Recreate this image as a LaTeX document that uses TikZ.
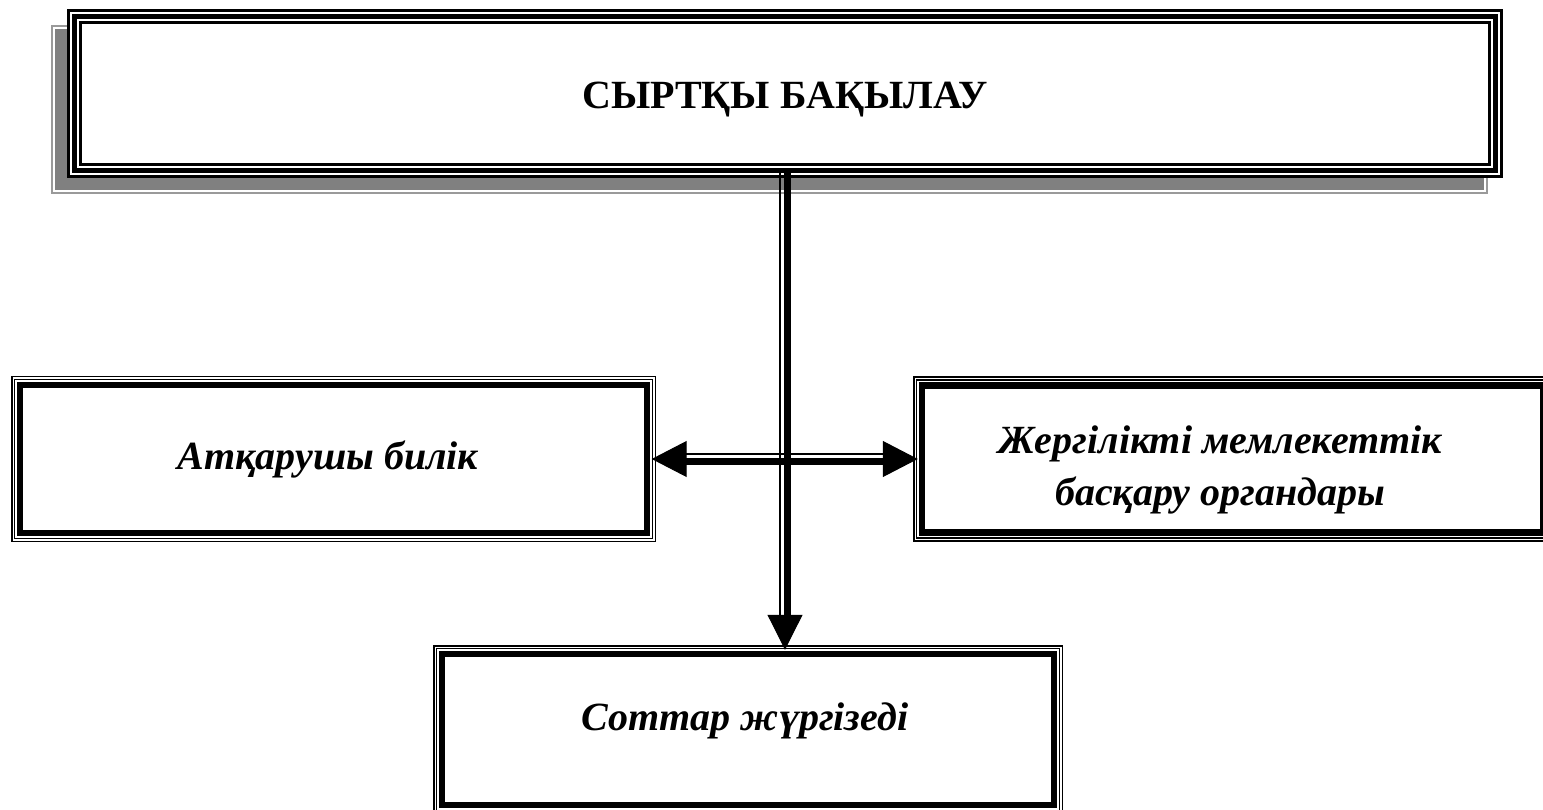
\documentclass[tikz,border=0pt]{standalone}
\usepackage{fontspec}
\setmainfont{Liberation Serif}
\usetikzlibrary{arrows.meta}
\definecolor{shadowfill}{HTML}{808080}
\definecolor{shadowline}{HTML}{9A9A9A}
\newcommand{\framemain}[1]{%
  \draw[line width=3pt] ([shift={(1.5,1.5)}]#1.north west) rectangle ([shift={(-1.5,-1.5)}]#1.south east);
  \draw[line width=5pt] ([shift={(7.5,7.5)}]#1.north west) rectangle ([shift={(-7.5,-7.5)}]#1.south east);
  \draw[line width=2.5pt] ([shift={(13.5,13.5)}]#1.north west) rectangle ([shift={(-13.5,-13.5)}]#1.south east);}
\newcommand{\framesub}[1]{%
  \draw[line width=1.7pt] ([shift={(0.85,0.85)}]#1.north west) rectangle ([shift={(-0.85,-0.85)}]#1.south east);
  \draw[line width=1.3pt] ([shift={(3.7,3.7)}]#1.north west) rectangle ([shift={(-3.7,-3.7)}]#1.south east);
  \draw[line width=6.5pt] ([shift={(9,9)}]#1.north west) rectangle ([shift={(-9,-9)}]#1.south east);}
\begin{document}
\begin{tikzpicture}[x=1pt,y=-1pt,
  boxshape/.style={rectangle, inner sep=0pt, fill=white, draw=none},
  titletext/.style={font=\fontsize{40}{48}\selectfont\bfseries, inner sep=0pt},
  lbl/.style={font=\fontsize{40}{52}\selectfont\bfseries\itshape, inner sep=0pt, align=center},
  bigtip/.style={line width=1pt, #1},
]
\useasboundingbox (0,0) rectangle (1543,810);
% shadow of the top box
\fill[shadowfill] (55,29) rectangle (1484,190);
\draw[shadowline, line width=2pt] (52,26) rectangle (1487,193);
% boxes
\node[boxshape, minimum width=1436pt, minimum height=169pt] (tbox) at (785,93.5) {};
\framemain{tbox}
\node[boxshape, minimum width=645pt, minimum height=166pt] (lbox) at (333.5,459) {};
\framesub{lbox}
\node[boxshape, minimum width=639pt, minimum height=165pt] (rbox) at (1232.5,459) {};
\framesub{rbox}
\node[boxshape, minimum width=630pt, minimum height=169pt] (bbox) at (748,729.5) {};
\framesub{bbox}
% texts
\node[titletext] (ttl) at (785,100) {СЫРТҚЫ БАҚЫЛАУ};
\node[lbl] (ltxt) at (328,459) {Атқарушы билік};
\node[lbl] (rtxt) at (1220,470) {Жергілікті мемлекеттік\\басқару органдары};
\node[lbl] (btxt) at (745,721) {Соттар жүргізеді};
% horizontal double arrow
\coordinate (hl) at ([xshift=-4.5pt]lbox.east);
\coordinate (hr) at ([xshift=5pt]rbox.west);
\draw[line width=1pt, {Triangle[length=35pt,width=36pt]}-{Triangle[length=35pt,width=36pt]}] (hl) -- (hr);
\draw[line width=2pt, shorten <=34pt, shorten >=34pt] ([shift={(0,-4.8)}]hl) -- ([shift={(0,-4.8)}]hr);
\draw[line width=6.7pt, shorten <=34pt, shorten >=34pt] ([shift={(0,2.2)}]hl) -- ([shift={(0,2.2)}]hr);
% vertical arrow
\coordinate (vs) at ([yshift=5pt]tbox.south);
\coordinate (ve) at ([yshift=-5pt]tbox.south |- bbox.north);
\draw[line width=1pt, -{Triangle[length=35pt,width=35pt]}] (vs) -- (ve);
\draw[line width=2.4pt, shorten >=34pt] ([shift={(-5,0)}]vs) -- ([shift={(-5,0)}]ve);
\draw[line width=7.7pt, shorten >=34pt] ([shift={(2.4,0)}]vs) -- ([shift={(2.4,0)}]ve);
\end{tikzpicture}
\end{document}
